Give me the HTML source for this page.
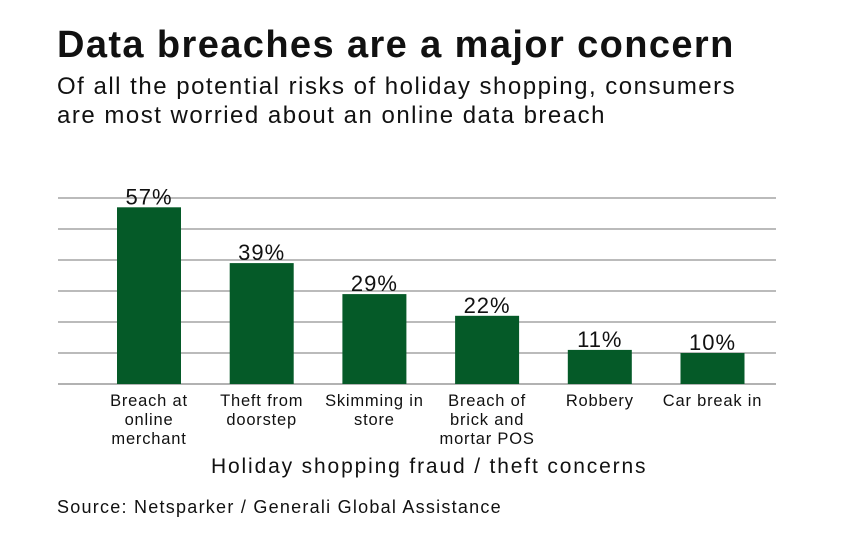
<!DOCTYPE html>
<html><head><meta charset="utf-8"><style>
body{margin:0;background:#fff;font-family:"Liberation Sans",sans-serif;}
#wrap{position:relative;width:844px;height:550px;overflow:hidden;}
.t{position:absolute;white-space:nowrap;color:#111;}
</style></head><body>
<div id="wrap">
<div class="t" style="left:57px;top:24px;font-size:38px;font-weight:bold;letter-spacing:1.4px;">Data breaches are a major concern</div>
<div class="t" style="left:57px;top:72px;font-size:24px;line-height:29px;letter-spacing:1.5px;">Of all the potential risks of holiday shopping, consumers<br>are most worried about an online data breach</div>
<svg id="svg" width="844" height="550" style="position:absolute;left:0;top:0"></svg>
<div class="t" style="left:211px;top:455px;font-size:21px;letter-spacing:1.85px;">Holiday shopping fraud / theft concerns</div>
<div class="t" style="left:57px;top:497px;font-size:18px;letter-spacing:1.25px;">Source: Netsparker / Generali Global Assistance</div>
</div>
<script>
const categories=[["Breach at","online","merchant"],["Theft from","doorstep"],["Skimming in","store"],["Breach of","brick and","mortar POS"],["Robbery"],["Car break in"]];
const values=[57,39,29,22,11,10];
const gridTicks=[0,10,20,30,40,50,60];
const NS="http://www.w3.org/2000/svg";
const svg=document.getElementById('svg');
const y=v=>384-v*3.1;
const x=i=>117+i*112.7;
const bw=64;
function mk(t,a){const e=document.createElementNS(NS,t);for(const k in a)e.setAttribute(k,a[k]);svg.appendChild(e);return e;}
gridTicks.forEach(t=>{const l=mk('line',{x1:58,x2:776,y1:y(t),y2:y(t),stroke:t===0?'#999':'#777','stroke-width':t===0?1.5:1});

});
values.forEach((v,i)=>{
const r=mk('rect',{x:x(i),y:y(v),width:bw,height:y(0)-y(v),fill:'#055a28'});


const tx=mk('text',{x:x(i)+bw/2,y:y(v)-3,'text-anchor':'middle','font-size':22,'letter-spacing':1,fill:'#111','font-family':'Liberation Sans, sans-serif'});
tx.textContent=v+'%';


categories[i].forEach((s,j)=>{const c=mk('text',{x:x(i)+bw/2,y:406+j*19,'text-anchor':'middle','font-size':16.5,'letter-spacing':0.8,fill:'#111','font-family':'Liberation Sans, sans-serif'});
c.textContent=s;

});
});
</script>
</body></html>
